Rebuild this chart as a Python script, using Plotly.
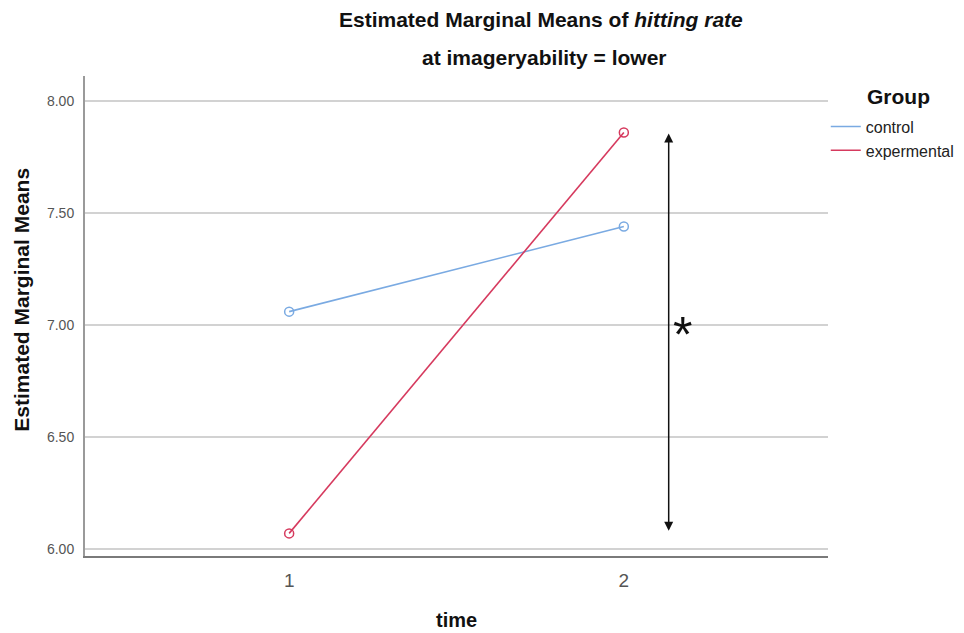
import plotly.graph_objects as go

time_points = [1, 2]
control = [7.06, 7.44]
experimental = [6.07, 7.86]
series_names = ["control", "expermental"]
y_ticks = [6.0, 6.5, 7.0, 7.5, 8.0]
y_tick_labels = ["6.00", "6.50", "7.00", "7.50", "8.00"]

# significance arrow (data units)
arrow_x = 2.134
arrow_top = 7.855
arrow_bottom = 6.075
star_x = 2.175
star_y = 6.955

FONT = "Liberation Sans, Arial, sans-serif"
c_control = "#7aaae2"
c_exp = "#d63a5e"

fig = go.Figure()
for name, vals, col in [(series_names[0], control, c_control), (series_names[1], experimental, c_exp)]:
    fig.add_trace(go.Scatter(
        x=time_points, y=vals, name=name, mode="lines+markers", showlegend=False,
        line=dict(color=col, width=1.6),
        marker=dict(symbol="circle-open", size=9, color=col, line=dict(width=1.5)),
    ))
    # legend entry drawn as a plain line sample
    fig.add_trace(go.Scatter(
        x=[None], y=[None], name=name, mode="lines",
        line=dict(color=col, width=1.6), hoverinfo="skip",
    ))

fig.update_layout(
    width=956, height=625,
    margin=dict(l=77, r=136, t=68, b=77, autoexpand=False),
    plot_bgcolor="white", paper_bgcolor="white",
    font=dict(family=FONT, color="#000"),
    showlegend=True,
    legend=dict(x=0.997, xanchor="left", y=0.93, yanchor="top",
                font=dict(size=16, family=FONT, color="#222"),
                itemwidth=30, tracegroupgap=0, bgcolor="rgba(0,0,0,0)"),
    xaxis=dict(range=[0.39, 2.61], tickvals=time_points, ticktext=["1", "2"],
               showgrid=False, zeroline=False, showline=True, linecolor="#7a7a7a",
               linewidth=2, ticks="", tickfont=dict(size=19, color="#555", family=FONT),
               ticklabelstandoff=6),
    yaxis=dict(range=[5.969, 8.112], tickvals=y_ticks, ticktext=y_tick_labels,
               showgrid=True, gridcolor="#d2d2d2", gridwidth=1.8, zeroline=False,
               showline=True, linecolor="#9a9a9a", linewidth=2, ticks="",
               tickfont=dict(size=14, color="#555", family=FONT), ticklabelstandoff=6),
)

anns = [
    dict(text="<b>Estimated Marginal Means of <i>hitting rate</i></b>", x=0.614, y=1.117,
         xanchor="center", yanchor="middle",
         xref="paper", yref="paper", showarrow=False, font=dict(size=21, family=FONT, color="#111")),
    dict(text="<b>at imageryability = lower</b>", x=0.618, y=1.0375,
         xanchor="center", yanchor="middle",
         xref="paper", yref="paper", showarrow=False, font=dict(size=21, family=FONT, color="#111")),
    dict(text="<b>Group</b>", x=1.0498, y=0.958, xanchor="left", yanchor="middle",
         xref="paper", yref="paper", showarrow=False, font=dict(size=21, family=FONT, color="#111")),
    dict(text="<b>Estimated Marginal Means</b>", x=-0.0848, y=0.534, textangle=-90,
         xanchor="center", yanchor="middle",
         xref="paper", yref="paper", showarrow=False, font=dict(size=21, family=FONT, color="#111")),
    dict(text="<b>time</b>", x=0.4995, y=-0.133, xanchor="center", yanchor="middle",
         xref="paper", yref="paper", showarrow=False, font=dict(size=20, family=FONT, color="#111")),
    dict(x=arrow_x, y=arrow_top, ax=arrow_x, ay=arrow_bottom, xref="x", yref="y",
         axref="x", ayref="y", text="", showarrow=True, arrowhead=2, arrowside="end+start",
         arrowsize=1.2, arrowwidth=1.5, arrowcolor="#111"),
    dict(text="*", x=star_x, y=star_y, xref="x", yref="y", showarrow=False,
         font=dict(size=50, family=FONT, color="#111")),
]
fig.update_layout(annotations=anns)

fig.write_html("out.html")
